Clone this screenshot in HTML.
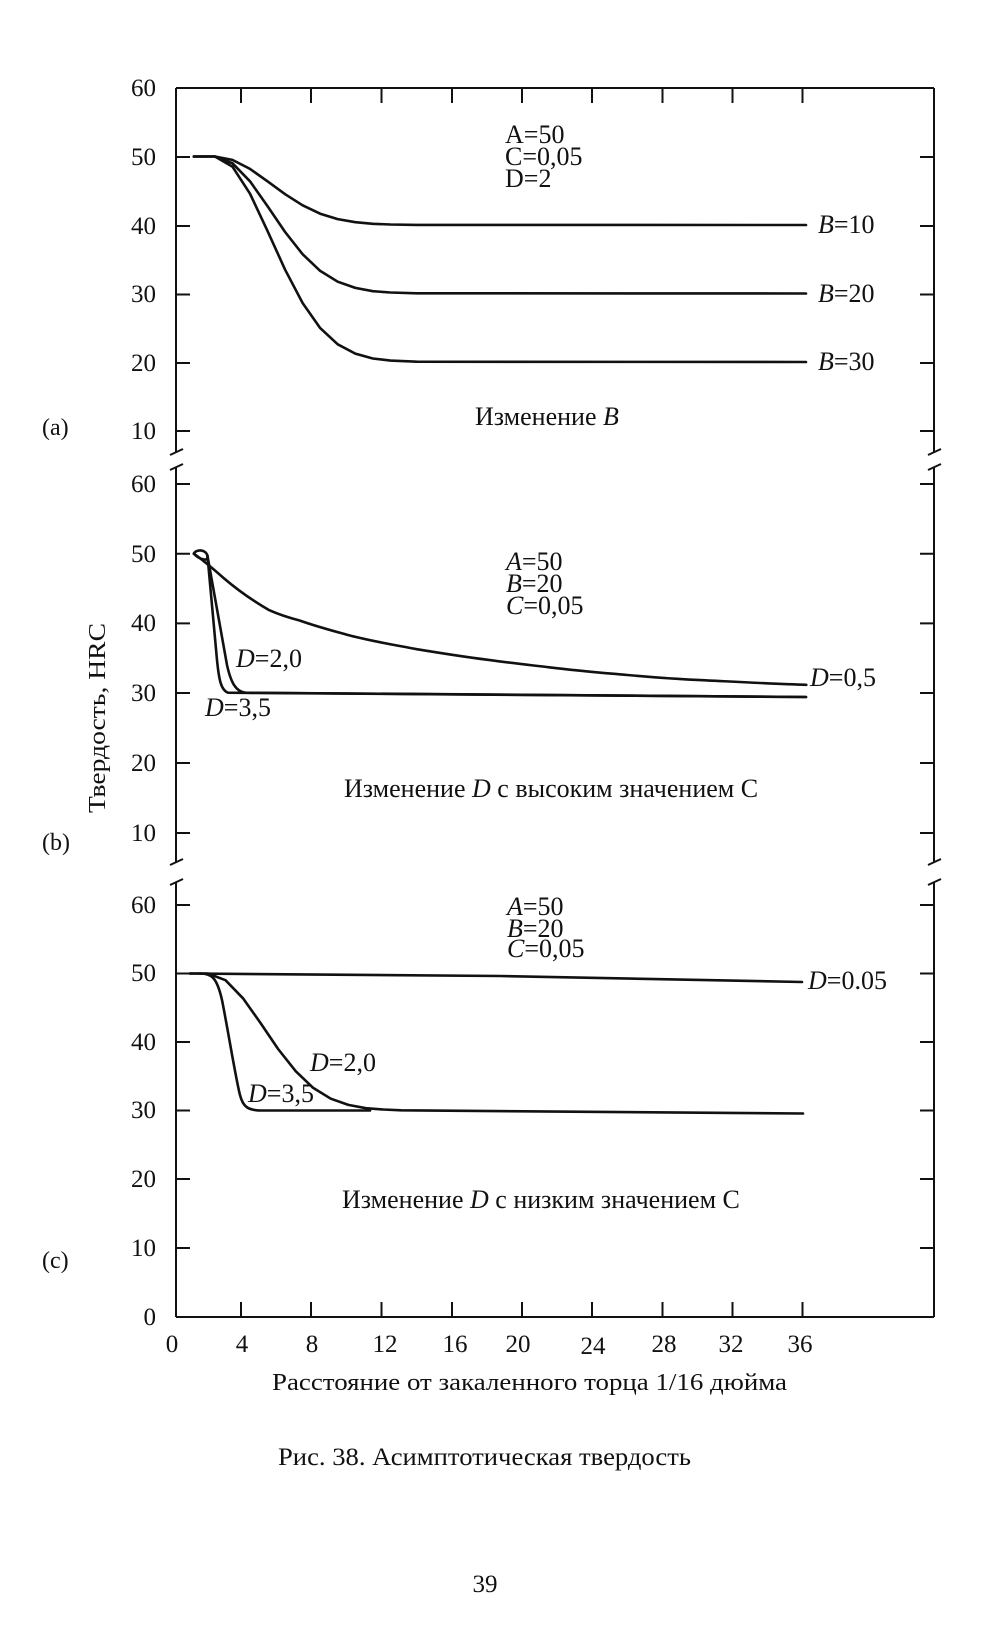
<!DOCTYPE html>
<html><head><meta charset="utf-8"><style>
html,body{margin:0;padding:0;background:#fff;}
svg{display:block;}
text{font-family:"Liberation Serif",serif;fill:#111;}
</style></head><body>
<svg width="1000" height="1645" viewBox="0 0 1000 1645" xmlns="http://www.w3.org/2000/svg">
<g stroke="#111" stroke-width="2" fill="none">
<line x1="176" y1="88" x2="176" y2="452"/>
<line x1="176" y1="467" x2="176" y2="862"/>
<line x1="176" y1="882" x2="176" y2="1317"/>
<line x1="934" y1="88" x2="934" y2="452"/>
<line x1="934" y1="467" x2="934" y2="862"/>
<line x1="934" y1="882" x2="934" y2="1317"/>
<line x1="176" y1="88" x2="934" y2="88"/>
<line x1="176" y1="1317" x2="934" y2="1317"/>
<line x1="170" y1="455" x2="183" y2="449"/>
<line x1="170" y1="470" x2="183" y2="464"/>
<line x1="170" y1="865" x2="183" y2="859"/>
<line x1="170" y1="885" x2="183" y2="879"/>
<line x1="928" y1="455" x2="941" y2="449"/>
<line x1="928" y1="470" x2="941" y2="464"/>
<line x1="928" y1="865" x2="941" y2="859"/>
<line x1="928" y1="885" x2="941" y2="879"/>
<path d="M176 157h14M176 226h14M176 294.5h14M176 363h14M176 431h14"/>
<path d="M920 157h14M920 226h14M920 294.5h14M920 363h14M920 431h14"/>
<path d="M176 484h14M176 553.7h14M176 623.4h14M176 693h14M176 763h14M176 833h14"/>
<path d="M920 484h14M920 553.7h14M920 623.4h14M920 693h14M920 763h14M920 833h14"/>
<path d="M176 905h14M176 973.5h14M176 1042h14M176 1110.5h14M176 1179h14M176 1248h14"/>
<path d="M920 905h14M920 973.5h14M920 1042h14M920 1110.5h14M920 1179h14M920 1248h14"/>
<path d="M241 88v15M311 88v15M381.5 88v15M452 88v15M522 88v15M592 88v15M662.5 88v15M732.5 88v15M802.5 88v15"/>
<path d="M241 1317v-15M311 1317v-15M381.5 1317v-15M452 1317v-15M522 1317v-15M592 1317v-15M662.5 1317v-15M732.5 1317v-15M802.5 1317v-15"/>
</g>

<g stroke="#111" stroke-width="2.6" fill="none" stroke-linejoin="round" stroke-linecap="round">
<polyline points="193.8,156.5 214.9,156.5 232.4,159.9 250,168.9 267.5,181.3 285.1,194.2 302.6,205.3 320.2,213.7 337.7,219.1 355.3,222.2 372.8,223.8 390.4,224.5 416.7,224.9 806,225"/>
<polyline points="193.8,156.5 214.9,156.5 232.4,163.2 250,181.3 267.5,206.1 285.1,232 302.6,254.2 320.2,270.9 337.7,281.7 355.3,287.9 372.8,291.2 390.4,292.5 416.7,293.3 806,293.5"/>
<polyline points="193.8,156.5 214.9,156.5 232.4,166.6 250,193.7 267.5,230.9 285.1,269.7 302.6,303 320.2,328.1 337.7,344.3 355.3,353.6 372.8,358.5 390.4,360.6 416.7,361.7 806,362"/>
<path d="M193.8,553.7 C200,558 210,566 223.7,578.1 C240,592 255,602 269.3,610.2 C280,615 290,618 300,620.6 C315,626 330,630 346.5,634.6 C370,641 395,645 416.7,649.2 C440,653 465,657 486.9,659.7 C510,663 530,665 550.1,667.4 C580,671 605,673 627.3,675 C650,677 675,679 697.5,679.9 C740,682 775,684 806.3,684.8"/>
<path d="M193.8,553.7 C196,549 206,549 207.5,556 C208.5,562 200,560 193.8,553.7"/>
<path d="M207.5,556 L217,660 C219,680 221,690 228,692.7 L 806,697"/>
<path d="M207.5,556 L227,665 C231,683 236,692 246,692.7 L 806,697"/>
<path d="M190,973.5 L500,976 L802,982"/>
<polyline points="190,973.5 207.9,973.5 225.5,980.2 243,998.3 260.6,1023.1 278.1,1049 295.7,1071.2 313.2,1087.9 330.8,1098.7 348.3,1104.9 365.9,1108.2 383.4,1109.5 401,1110.3 803,1113.5"/>
<path d="M200,973.5 C212,973.5 217,978 222,1000 C228,1030 236,1080 240,1095 C243,1107 248,1110.5 262,1110.5 L370,1110.5"/>
</g>

<g font-size="25" text-anchor="end">
<text x="156" y="96">60</text><text x="156" y="165">50</text><text x="156" y="234">40</text><text x="156" y="302">30</text><text x="156" y="371">20</text><text x="156" y="439">10</text>
<text x="156" y="492">60</text><text x="156" y="562">50</text><text x="156" y="631">40</text><text x="156" y="701">30</text><text x="156" y="771">20</text><text x="156" y="841">10</text>
<text x="156" y="913">60</text><text x="156" y="981">50</text><text x="156" y="1050">40</text><text x="156" y="1118">30</text><text x="156" y="1187">20</text><text x="156" y="1256">10</text><text x="156" y="1325">0</text>
</g>
<g font-size="25" text-anchor="middle">
<text x="172" y="1352">0</text><text x="242" y="1352">4</text><text x="312" y="1352">8</text><text x="385" y="1352">12</text><text x="455" y="1352">16</text><text x="518" y="1352">20</text><text x="593" y="1354">24</text><text x="664" y="1352">28</text><text x="731" y="1352">32</text><text x="800" y="1352">36</text>
</g>

<g font-size="26">
<text x="505" y="143">A=50</text>
<text x="505" y="165">C=0,05</text>
<text x="505" y="187">D=2</text>
<text x="818" y="233"><tspan font-style="italic">B</tspan>=10</text>
<text x="818" y="302"><tspan font-style="italic">B</tspan>=20</text>
<text x="818" y="370"><tspan font-style="italic">B</tspan>=30</text>
<text x="475" y="425">Изменение <tspan font-style="italic">B</tspan></text>

<text x="506" y="570"><tspan font-style="italic">A</tspan>=50</text>
<text x="506" y="592"><tspan font-style="italic">B</tspan>=20</text>
<text x="506" y="614"><tspan font-style="italic">C</tspan>=0,05</text>
<text x="236" y="667"><tspan font-style="italic">D</tspan>=2,0</text>
<text x="205" y="716"><tspan font-style="italic">D</tspan>=3,5</text>
<text x="810" y="686"><tspan font-style="italic">D</tspan>=0,5</text>
<text x="344" y="797">Изменение <tspan font-style="italic">D</tspan> с высоким значением C</text>

<text x="507" y="915"><tspan font-style="italic">A</tspan>=50</text>
<text x="507" y="937"><tspan font-style="italic">B</tspan>=20</text>
<text x="507" y="957"><tspan font-style="italic">C</tspan>=0,05</text>
<text x="808" y="989"><tspan font-style="italic">D</tspan>=0.05</text>
<text x="310" y="1071"><tspan font-style="italic">D</tspan>=2,0</text>
<text x="248" y="1102"><tspan font-style="italic">D</tspan>=3,5</text>
<text x="342" y="1208">Изменение <tspan font-style="italic">D</tspan> с низким значением C</text>

<text x="42" y="435" font-size="24">(a)</text>
<text x="42" y="850" font-size="24">(b)</text>
<text x="42" y="1268" font-size="24">(c)</text>

<text x="272" y="1390" font-size="24" textLength="515" lengthAdjust="spacingAndGlyphs">Расстояние от закаленного торца 1/16 дюйма</text>
<text transform="translate(105,718) rotate(-90)" text-anchor="middle" font-size="24" textLength="190" lengthAdjust="spacingAndGlyphs">Твердость, HRC</text>
</g>
<text x="278" y="1465" font-size="25" textLength="413" lengthAdjust="spacingAndGlyphs">Рис. 38. Асимптотическая твердость</text>
<text x="485" y="1592" font-size="25" text-anchor="middle">39</text>
</svg>
</body></html>
